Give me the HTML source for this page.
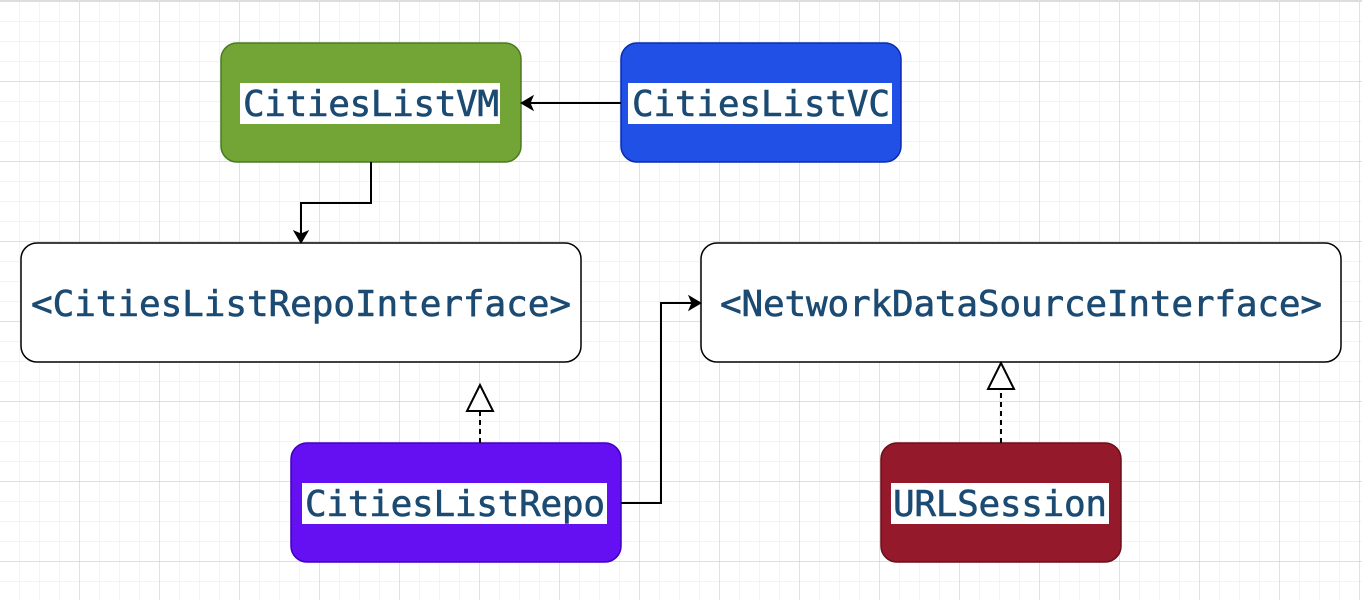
<!DOCTYPE html>
<html><head><style>
body{margin:0;width:1362px;height:600px;overflow:hidden;background:#fff;}
svg{display:block}
text{font-family:"DejaVu Sans Mono","Liberation Mono",monospace;font-size:36px;fill:#1b4a72;stroke:#1b4a72;stroke-width:0.6px;}
</style></head><body>
<svg width="1362" height="600" xmlns="http://www.w3.org/2000/svg">
<defs>
<pattern id="mi" width="20" height="20" patternUnits="userSpaceOnUse" x="0" y="2">
<path d="M20 0V20M0 20H20" stroke="#ececec" stroke-width="1.2" fill="none"/></pattern>
<pattern id="ma" width="80" height="80" patternUnits="userSpaceOnUse" x="0" y="2">
<path d="M80 0V80M0 80H80" stroke="#cfcfcf" stroke-width="1.2" fill="none"/></pattern>
</defs>
<rect width="1362" height="600" fill="url(#mi)"/>
<rect width="1362" height="600" fill="url(#ma)"/>
<rect x="0" y="0" width="1362" height="2" fill="#ddd"/>

<rect x="221" y="43" width="300" height="119" rx="16" fill="#72a536" stroke="#4a7a22" stroke-width="1.5"/>
<rect x="240" y="83" width="260" height="41" fill="#fff"/>
<text x="371" y="116" text-anchor="middle" textLength="256">CitiesListVM</text>

<rect x="621" y="43" width="280" height="119" rx="16" fill="#2150e6" stroke="#0a2bb0" stroke-width="1.5"/>
<rect x="628" y="83" width="264" height="41" fill="#fff"/>
<text x="761" y="116" text-anchor="middle" textLength="258">CitiesListVC</text>

<rect x="21" y="243" width="560" height="119" rx="16" fill="#fff" stroke="#000" stroke-width="1.5"/>
<text x="301" y="316" text-anchor="middle" textLength="540">&lt;CitiesListRepoInterface&gt;</text>

<rect x="701" y="243" width="640" height="119" rx="16" fill="#fff" stroke="#000" stroke-width="1.5"/>
<text x="1021" y="316" text-anchor="middle" textLength="602">&lt;NetworkDataSourceInterface&gt;</text>

<rect x="291" y="443" width="330" height="119" rx="16" fill="#6410f2" stroke="#3f00c0" stroke-width="1.5"/>
<rect x="302" y="483" width="305" height="41" fill="#fff"/>
<text x="455" y="516" text-anchor="middle" textLength="300">CitiesListRepo</text>

<rect x="881" y="443" width="240" height="119" rx="16" fill="#94192b" stroke="#6a0f1a" stroke-width="1.5"/>
<rect x="891" y="483" width="218" height="41" fill="#fff"/>
<text x="1000" y="516" text-anchor="middle" textLength="214">URLSession</text>

<g stroke="#000" stroke-width="2" fill="none">
<path d="M621 103H530"/>
<path d="M371 162V203H301V234"/>
<path d="M621 503H661V303H692"/>
<path d="M480 443V412" stroke-dasharray="5,4"/>
<path d="M1001 443V390" stroke-dasharray="5,4"/>
<path d="M480 385L467 411H493Z" fill="#fff"/>
<path d="M1001 363L988 389H1014Z" fill="#fff"/>
</g>
<path d="M521 103L533 96L530 103L533 110Z" fill="#000" stroke="#000"/>
<path d="M301 243L294 231L301 234L308 231Z" fill="#000" stroke="#000"/>
<path d="M701 303L689 296L692 303L689 310Z" fill="#000" stroke="#000"/>
</svg>
</body></html>
